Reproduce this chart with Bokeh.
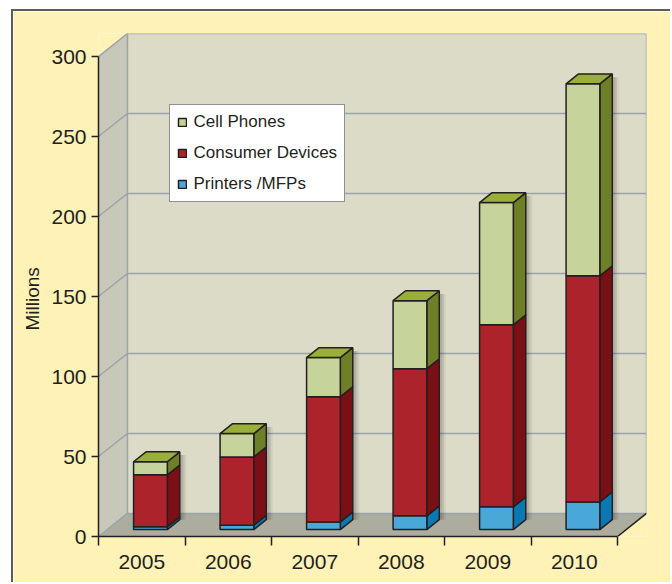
from bokeh.plotting import figure
from bokeh.models import FixedTicker, Legend, LegendItem, Range1d, Title
from bokeh.embed import file_html
from bokeh.resources import INLINE

# ---------------- data ----------------
years = ["2005", "2006", "2007", "2008", "2009", "2010"]
printers = [1.8, 2.7, 4.8, 8.6, 14.2, 17.3]
consumer = [32.4, 42.7, 78.3, 92.0, 113.8, 141.3]
cell = [8.2, 14.6, 24.4, 42.5, 76.4, 120.0]
y_ticks = [0, 50, 100, 150, 200, 250, 300]
series_names = ["Printers /MFPs", "Consumer Devices", "Cell Phones"]
y_title = "Millions"

# ---------------- style ----------------
FONT = "Liberation Sans"
INK = "#231F20"
DX = 0.335      # depth of the box, x units
DY = 14.4       # depth of the box, y units
BAR_W = 0.39
F0 = 0.3        # bar front position inside the depth
F1 = 0.43       # bar depth fraction
Y_MAX = y_ticks[-1]
n = len(years)

front_cols = ["#4AA8D8", "#AD232B", "#C6D39A"]
side_cols = ["#0A78B2", "#7A1015", "#6D7F27"]
top_col = "#9AAE3A"
BG = "#FFF2B6"

p = figure(frame_width=548, frame_height=503,
           x_range=Range1d(0, n + DX), y_range=Range1d(0, Y_MAX + DY),
           output_backend="svg", toolbar_location=None,
           min_border_left=85, min_border_right=24, min_border_top=22, min_border_bottom=46)
p.styles = {"margin-left": "11px", "margin-top": "9px",
            "border-left": "2px solid #5E5D50", "border-top": "2px solid #5E5D50"}
p.background_fill_color = BG
p.border_fill_color = BG
p.outline_line_color = None
p.grid.visible = False

# walls and floor
p.patch([0, n, n + DX, DX], [0, 0, DY, DY], fill_color="#ADAD9F", line_color=None)
p.patch([0, DX, DX, 0], [0, DY, Y_MAX + DY, Y_MAX], fill_color="#C8C8B8", line_color=None)
p.patch([DX, n + DX, n + DX, DX], [DY, DY, Y_MAX + DY, Y_MAX + DY], fill_color="#DCDBC8", line_color=None)

gx0, gy0, gx1, gy1 = [], [], [], []
for t in y_ticks:
    gx0 += [0, DX]; gy0 += [t, t + DY]
    gx1 += [DX, n + DX]; gy1 += [t + DY, t + DY]
gx0 += [DX, n + DX]; gy0 += [DY, DY]
gx1 += [DX, n + DX]; gy1 += [Y_MAX + DY, Y_MAX + DY]
p.segment(gx0, gy0, gx1, gy1, line_color="#9AA3AB", line_width=1.5)
p.segment([n], [0], [n + DX], [DY], line_color=INK, line_width=1.5)

# bars
ddx, ddy = F1 * DX, F1 * DY
stack = [printers, consumer, cell]
totals = [a + b + c for a, b, c in zip(*stack)]

# soft shadow behind each bar
for s, a in [(0.075, 0.05), (0.055, 0.07), (0.035, 0.09)]:
    lx = [i + 0.5 - BAR_W / 2 + F0 * DX + BAR_W for i in range(n)]
    p.quad(left=lx, right=[x + ddx + s for x in lx],
           bottom=[F0 * DY + ddy] * n, top=[F0 * DY + t + ddy - 2 for t in totals],
           fill_color="black", fill_alpha=a, line_color=None)

bottoms = [0.0] * n
renderers = []
for k, vals in enumerate(stack):
    left, right, bot, top = [], [], [], []
    sxs, sys = [], []
    for i in range(n):
        x0 = i + 0.5 - BAR_W / 2 + F0 * DX
        x1 = x0 + BAR_W
        y0 = bottoms[i] + F0 * DY
        y1 = y0 + vals[i]
        left.append(x0); right.append(x1); bot.append(y0); top.append(y1)
        sxs.append([x1, x1 + ddx, x1 + ddx, x1])
        sys.append([y0, y0 + ddy, y1 + ddy, y1])
    p.patches(sxs, sys, fill_color=side_cols[k], line_color=INK, line_width=1.5)
    r = p.quad(left=left, right=right, bottom=bot, top=top,
               fill_color=front_cols[k], line_color=INK, line_width=1.5)
    renderers.append(r)
    if k == len(stack) - 1:
        txs = [[l, rr, rr + ddx, l + ddx] for l, rr in zip(left, right)]
        tys = [[t, t, t + ddy, t + ddy] for t in top]
        p.patches(txs, tys, fill_color=top_col, line_color=INK, line_width=1.5)
    bottoms = [b + v for b, v in zip(bottoms, vals)]

# axes
p.xaxis.ticker = FixedTicker(ticks=[i + 0.5 for i in range(n)], minor_ticks=list(range(n + 1)))
p.xaxis.major_label_overrides = {i + 0.5: y for i, y in enumerate(years)}
p.xaxis.bounds = (0, n)
p.xaxis.major_tick_out = 0
p.xaxis.major_tick_in = 0
p.xaxis.minor_tick_out = 9
p.xaxis.minor_tick_in = 0
p.xaxis.major_label_standoff = 9

p.yaxis.ticker = FixedTicker(ticks=y_ticks)
p.yaxis.bounds = (0, Y_MAX)
p.yaxis.major_tick_out = 7
p.yaxis.major_tick_in = 0
p.yaxis.minor_tick_line_color = None
p.yaxis.major_label_standoff = 5

for ax in (p.xaxis, p.yaxis):
    ax.axis_line_color = INK
    ax.axis_line_width = 1.5
    ax.major_tick_line_color = INK
    ax.major_tick_line_width = 1.5
    ax.major_label_text_font = FONT
    ax.major_label_text_font_size = "21px"
    ax.major_label_text_color = INK
p.xaxis.minor_tick_line_color = INK
p.xaxis.minor_tick_line_width = 1.5

# y title, centred on the 0..300 axis rather than on the frame
p.add_layout(Title(text=y_title, align="left", offset=206, standoff=12,
                   text_font=FONT, text_font_size="19px", text_font_style="normal",
                   text_color=INK), "left")

legend = Legend(items=[LegendItem(label=series_names[2], renderers=[renderers[2]]),
                       LegendItem(label=series_names[1], renderers=[renderers[1]]),
                       LegendItem(label=series_names[0], renderers=[renderers[0]])],
                location=(70.5, 334), label_text_font=FONT, label_text_font_size="17px",
                label_text_color=INK, glyph_width=10, glyph_height=10, label_height=20,
                label_standoff=7, spacing=11, padding=7, margin=0,
                border_line_color=INK, border_line_width=1.5,
                background_fill_color="white", background_fill_alpha=1.0)
p.add_layout(legend)

open("out.html", "w").write(file_html(p, INLINE))
